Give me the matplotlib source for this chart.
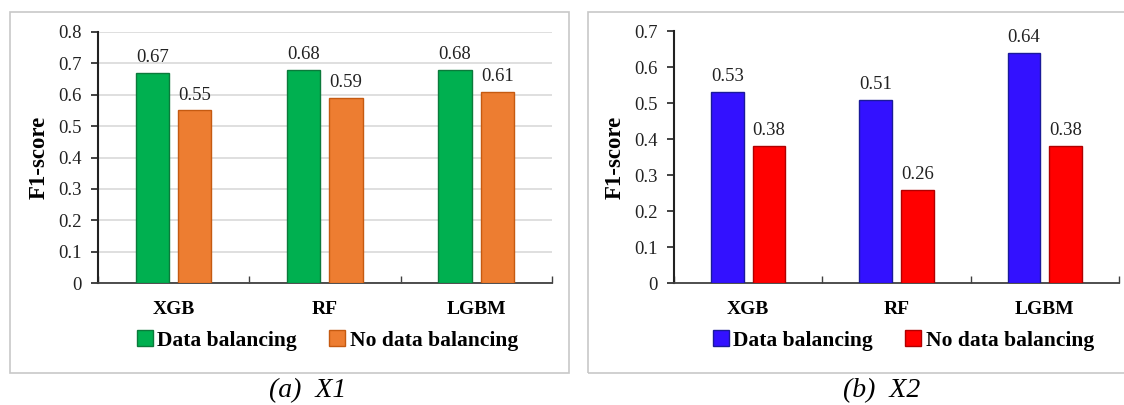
import matplotlib
matplotlib.use("Agg")
import matplotlib.pyplot as plt
import numpy as np
from matplotlib.patches import Patch, Rectangle

categories = ["XGB", "RF", "LGBM"]
series_names = ["Data balancing", "No data balancing"]
x1_balanced = [0.67, 0.68, 0.68]
x1_unbalanced = [0.55, 0.59, 0.61]
x2_balanced = [0.53, 0.51, 0.64]
x2_unbalanced = [0.38, 0.26, 0.38]
x1_ticks = [0, 0.1, 0.2, 0.3, 0.4, 0.5, 0.6, 0.7, 0.8]
x2_ticks = [0, 0.1, 0.2, 0.3, 0.4, 0.5, 0.6, 0.7]
ylabel = "F1-score"
captions = ["(a)  X1", "(b)  X2"]

plt.rcParams['font.family'] = ['Liberation Serif', 'DejaVu Serif']

fig = plt.figure(figsize=(11.24, 4.05), dpi=100)

def panel(rect, a, b, ticks, colors, edges, grid, caption, cap_x, ylab_x, frame, leg_x):
    ax = fig.add_axes(rect)
    x = np.arange(len(categories))
    w = 0.22
    off = 0.14
    b1 = ax.bar(x - off, a, w, color=colors[0], edgecolor=edges[0], linewidth=1.0, zorder=3)
    b2 = ax.bar(x + off, b, w, color=colors[1], edgecolor=edges[1], linewidth=1.0, zorder=3)
    for bars, vals in ((b1, a), (b2, b)):
        for r, v in zip(bars, vals):
            ax.annotate(f"{v:.2f}", (r.get_x() + r.get_width() / 2, v),
                        xytext=(0, 5), textcoords="offset points",
                        ha="center", va="bottom", fontsize=13.5, color="#222222", zorder=4)
    ax.set_xlim(-0.5, len(categories) - 0.5)
    ax.set_ylim(0, ticks[-1])
    ax.set_yticks(ticks)
    ax.set_yticklabels([("0" if t == 0 else f"{t:.1f}") for t in ticks], fontsize=13.5)
    ax.set_xticks(x)
    ax.set_xticklabels(categories, fontsize=14, fontweight="bold")
    ax.set_xticks(np.arange(-0.5, len(categories), 1.0), minor=True)
    ax.tick_params(axis="x", which="major", length=0, pad=13)
    ax.tick_params(axis="x", which="minor", direction="in", length=5, color="#404040", width=1)
    ax.tick_params(axis="y", direction="out", length=5, width=1.2, pad=7, colors="#222222")
    for s in ("top", "right"):
        ax.spines[s].set_visible(False)
    ax.spines["left"].set_linewidth(1.5)
    ax.spines["left"].set_color("#222222")
    ax.spines["bottom"].set_linewidth(1.3)
    ax.spines["bottom"].set_color("#404040")
    if grid:
        ax.yaxis.grid(True, color="#D9D9D9", linewidth=1.2, zorder=0)
        ax.set_axisbelow(True)
    handles = [Patch(facecolor=colors[0], edgecolor=edges[0]),
               Patch(facecolor=colors[1], edgecolor=edges[1])]
    ax.legend(handles, series_names, loc="center", ncol=2,
              bbox_to_anchor=(leg_x, -0.228), frameon=False,
              prop={"size": 15.5, "weight": "bold"},
              handlelength=0.75, handleheight=0.75, handletextpad=0.2,
              columnspacing=1.5)
    fig.text(ylab_x, (rect[1] + rect[1] + rect[3]) / 2, ylabel, rotation=90,
             ha="center", va="center", fontsize=16.5, fontweight="bold")
    fig.text(cap_x, 2 / 405, caption, ha="center", va="bottom", fontsize=20,
             style="italic")
    fig.patches.append(Rectangle((frame[0], frame[1]), frame[2], frame[3],
                                 transform=fig.transFigure, fill=False,
                                 edgecolor="#C8C8C8", linewidth=1.2))
    return ax

panel([0.0872, 0.301, 0.4038, 0.62], x1_balanced, x1_unbalanced, x1_ticks,
      ["#00B050", "#ED7D31"], ["#0B7A3B", "#C55A11"], True, captions[0],
      0.274, 0.0345, (10/1124, 1 - 373/405, 559/1124, 361/405), 0.505)
panel([0.5996, 0.301, 0.396, 0.622], x2_balanced, x2_unbalanced, x2_ticks,
      ["#3311FF", "#FF0000"], ["#1A1A9A", "#B00000"], False, captions[1],
      0.784, 0.547, (588/1124, 1 - 373/405, 545/1124, 361/405), 0.515)

fig.savefig("out.png", dpi=100)
